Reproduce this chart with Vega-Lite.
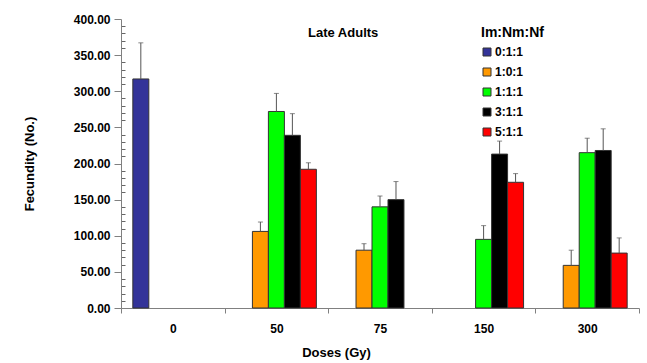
{
  "$schema": "https://vega.github.io/schema/vega-lite/v6.json",
  "autosize": "none",
  "width": 518,
  "height": 289,
  "padding": {"left": 121, "top": 19, "right": 8, "bottom": 55},
  "background": "white",
  "config": {
    "font": "Liberation Sans",
    "view": {"stroke": null},
    "axis": {"domainColor": "#808080", "tickColor": "#808080", "grid": false, "labelFont": "Liberation Sans", "titleFont": "Liberation Sans", "labelFontWeight": "bold", "titleFontWeight": "bold", "labelColor": "#000000", "titleColor": "#000000", "labelFontSize": 11, "titleFontSize": 12}
  },
  "title": {"text": "Late Adults", "anchor": "start", "frame": "group", "dx": 187, "dy": 37, "offset": 0, "baseline": "alphabetic", "fontSize": 13, "fontWeight": "bold", "font": "Liberation Sans", "color": "#000000"},
  "data": {"values": [
    {"dose": "0", "group": "0:1:1", "value": 317, "err": 50},
    {"dose": "50", "group": "1:0:1", "value": 106, "err": 13},
    {"dose": "50", "group": "1:1:1", "value": 272, "err": 25},
    {"dose": "50", "group": "3:1:1", "value": 239, "err": 30},
    {"dose": "50", "group": "5:1:1", "value": 192, "err": 9},
    {"dose": "75", "group": "1:0:1", "value": 80, "err": 9},
    {"dose": "75", "group": "1:1:1", "value": 140, "err": 15},
    {"dose": "75", "group": "3:1:1", "value": 150, "err": 25},
    {"dose": "150", "group": "1:1:1", "value": 95, "err": 19},
    {"dose": "150", "group": "3:1:1", "value": 213, "err": 18},
    {"dose": "150", "group": "5:1:1", "value": 174, "err": 12},
    {"dose": "300", "group": "1:0:1", "value": 59, "err": 21},
    {"dose": "300", "group": "1:1:1", "value": 215, "err": 20},
    {"dose": "300", "group": "3:1:1", "value": 218, "err": 30},
    {"dose": "300", "group": "5:1:1", "value": 76, "err": 21}
  ]},
  "transform": [{"calculate": "datum.value + datum.err", "as": "upper"}],
  "encoding": {
    "x": {"field": "dose", "type": "nominal", "sort": ["0", "50", "75", "150", "300"],
      "scale": {"paddingInner": 0, "paddingOuter": 0},
      "axis": {"title": "Doses (Gy)", "labelAngle": 0, "tickBand": "extent", "tickSize": 5, "labelPadding": 10, "titlePadding": 12, "titleX": 215, "labelFontSize": 12, "titleFontSize": 13}},
    "xOffset": {"field": "group", "type": "nominal", "sort": ["0:1:1", "1:0:1", "1:1:1", "3:1:1", "5:1:1"],
      "scale": {"domain": ["0:1:1", "1:0:1", "1:1:1", "3:1:1", "5:1:1"], "paddingInner": 0, "paddingOuter": 0.74}}
  },
  "resolve": {"axis": {"y": "independent"}},
  "layer": [
    {
      "mark": {"type": "tick", "opacity": 0},
      "encoding": {
        "y": {"field": "value", "type": "quantitative", "scale": {"domain": [0, 400]},
          "axis": {"orient": "left", "title": null, "values": [10,20,30,40,60,70,80,90,110,120,130,140,160,170,180,190,210,220,230,240,260,270,280,290,310,320,330,340,360,370,380,390], "labels": false, "domain": false, "tickSize": -4, "tickColor": "#666666"}}
      }
    },
    {
      "mark": {"type": "bar", "stroke": "#333333", "strokeWidth": 1},
      "encoding": {
        "y": {"field": "value", "type": "quantitative", "scale": {"domain": [0, 400]},
          "axis": {"orient": "left", "title": "Fecundity (No.)", "values": [0, 50, 100, 150, 200, 250, 300, 350, 400], "format": ".2f", "tickSize": 7, "labelPadding": 4, "titlePadding": 37, "labelFontSize": 12, "titleFontSize": 13}},
        "color": {"field": "group", "type": "nominal",
          "scale": {"domain": ["0:1:1", "1:0:1", "1:1:1", "3:1:1", "5:1:1"], "range": ["#333399", "#FF9900", "#00FF00", "#000000", "#FF0000"]},
          "legend": {"title": "Im:Nm:Nf", "orient": "none", "legendX": 360, "legendY": 7, "symbolType": "square", "symbolSize": 64, "symbolStrokeColor": "#333333", "symbolStrokeWidth": 1, "labelFont": "Liberation Sans", "labelFontSize": 12, "labelFontWeight": "bold", "labelColor": "#000000", "titleFont": "Liberation Sans", "titleFontSize": 14, "titleFontWeight": "bold", "titleColor": "#000000", "rowPadding": 8, "labelOffset": 2, "titlePadding": 6}}
      }
    },
    {
      "mark": {"type": "rule", "color": "#555555", "strokeWidth": 1},
      "encoding": {
        "y": {"field": "value", "type": "quantitative", "axis": null},
        "y2": {"field": "upper"}
      }
    },
    {
      "mark": {"type": "tick", "color": "#555555", "thickness": 1, "size": 5},
      "encoding": {
        "y": {"field": "upper", "type": "quantitative", "axis": null}
      }
    }
  ]
}
